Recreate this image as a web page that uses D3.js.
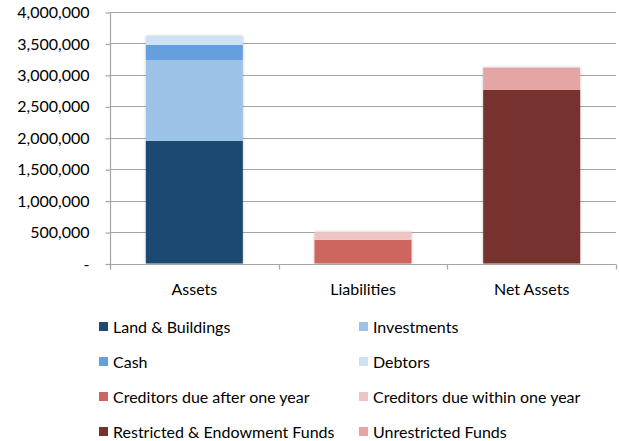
<!DOCTYPE html>
<html><head><meta charset="utf-8">
<script src="https://cdn.jsdelivr.net/npm/d3@7"></script>
<style>body{margin:0;background:#fff}svg{display:block}text{font-family:Lato,"Open Sans",sans-serif;fill:#000}</style>
</head><body><svg id="c" width="619" height="441"></svg>
<script>
const categories = ["Assets", "Liabilities", "Net Assets"];
const seriesNames = ["Land & Buildings","Investments","Cash","Debtors","Creditors due after one year","Creditors due within one year","Restricted & Endowment Funds","Unrestricted Funds"];
const seriesCategory = ["Assets","Assets","Assets","Assets","Liabilities","Liabilities","Net Assets","Net Assets"];
const seriesValues = [1950000, 1285000, 240000, 142000, 375000, 125000, 2760000, 355000];
const seriesColors = ["#1F4971","#9DC2E7","#64A0DD","#CEE0F3","#CD665E","#EEC5C4","#77322F","#E3A6A5"];
const yTicks = [0,500000,1000000,1500000,2000000,2500000,3000000,3500000,4000000];

const svg = d3.select("#c");
const m = {l:110, r:3, t:12, b:177};
const W = 619, H = 441;
const x = d3.scaleBand().domain(categories).range([m.l, W - m.r]).paddingInner(0.425).paddingOuter(0.2125);
const y = d3.scaleLinear().domain([0, 4000000]).range([263.5, m.t]);

const defs = svg.append("defs");
const f = defs.append("filter").attr("id","sh").attr("x","-20%").attr("y","-20%").attr("width","140%").attr("height","140%");
f.append("feGaussianBlur").attr("in","SourceAlpha").attr("stdDeviation",1.6).attr("result","b");
f.append("feOffset").attr("in","b").attr("dx",0).attr("dy",0).attr("result","o");
f.append("feComponentTransfer").attr("in","o").attr("result","o2").append("feFuncA").attr("type","linear").attr("slope",0.25);
const fm = f.append("feMerge"); fm.append("feMergeNode").attr("in","o2"); fm.append("feMergeNode").attr("in","SourceGraphic");

// gridlines
svg.append("g").selectAll("line").data(yTicks.slice(1)).join("line")
  .attr("x1", m.l).attr("x2", W - m.r)
  .attr("y1", d => Math.round(y(d)) + 0.5).attr("y2", d => Math.round(y(d)) + 0.5)
  .attr("stroke", "#A6A6A6").attr("stroke-width", 1.2);

// y axis
const yAxis = d3.axisLeft(y).tickValues(yTicks).tickSize(5).tickPadding(16)
  .tickFormat(d => d === 0 ? "-" : d3.format(",")(d));
const ga = svg.append("g").attr("transform", `translate(${m.l + 0.5},0.5)`).call(yAxis);
ga.select(".domain").attr("stroke","#A6A6A6").attr("stroke-width",1.2).attr("d", `M0,${y(4000000)}V${y(0)+5}`);
ga.selectAll(".tick line").attr("stroke","#A6A6A6").attr("stroke-width",1.2);
ga.selectAll(".tick text").attr("font-size", 16).attr("font-family","Lato").attr("fill","#000");

// stacked bars
const stacks = {};
const segs = seriesValues.map((v, i) => {
  const c = seriesCategory[i];
  const base = stacks[c] || 0;
  stacks[c] = base + v;
  return {cat: c, y0: base, y1: base + v, color: seriesColors[i]};
});
const gb = svg.append("g").attr("filter","url(#sh)");
categories.forEach(c => {
  gb.append("g").selectAll("rect").data(segs.filter(s => s.cat === c)).join("rect")
    .attr("x", d => x(d.cat)).attr("width", x.bandwidth())
    .attr("y", d => y(d.y1)).attr("height", d => y(d.y0) - y(d.y1))
    .attr("fill", d => d.color);
});

// x axis
const step = x.step();
const gx = svg.append("g").attr("transform", `translate(0,${Math.round(y(0))+0.5})`);
gx.append("line").attr("x1", m.l).attr("x2", W - m.r).attr("stroke","#A6A6A6").attr("stroke-width",1.2);
const bounds = d3.range(categories.length + 1).map(i => m.l + i * (W - m.r - m.l) / categories.length);
gx.selectAll(".tk").data(bounds).join("line").attr("class","tk")
  .attr("x1", d => Math.round(d)+0.5).attr("x2", d => Math.round(d)+0.5).attr("y1",0).attr("y2",5)
  .attr("stroke","#A6A6A6").attr("stroke-width",1.2);
gx.selectAll("text").data(categories).join("text")
  .attr("x", d => x(d) + x.bandwidth()/2).attr("y", 30)
  .attr("text-anchor","middle").attr("font-size",16).text(d => d);

// legend
const lg = svg.append("g");
const colX = [99, 359], rowY = [327.5, 362.5, 397.5, 432.5];
seriesNames.forEach((n, i) => {
  const cx = colX[i % 2], cy = rowY[Math.floor(i / 2)];
  lg.append("rect").attr("x", cx).attr("y", cy - 5.5).attr("width", 9).attr("height", 9).attr("fill", seriesColors[i]);
  lg.append("text").attr("x", cx + 14).attr("y", cy + 5.5).attr("font-size", 16).text(n);
});
</script></body></html>
